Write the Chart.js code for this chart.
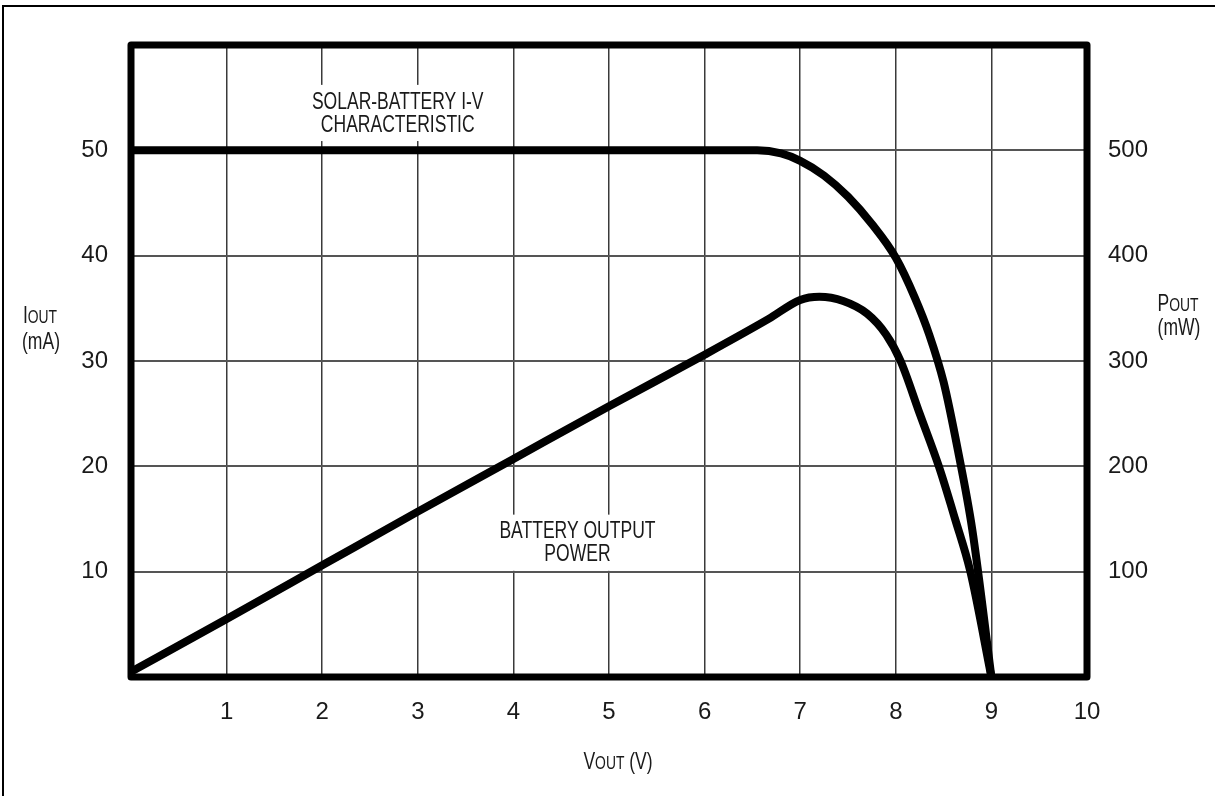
<!DOCTYPE html>
<html lang="en">
<head>
  <meta charset="UTF-8" />
  <title>Solar battery I-V characteristic</title>
  <script src="https://cdn.jsdelivr.net/npm/chart.js"></script>
  <style>
    html, body { margin: 0; padding: 0; background: #fff; }
    #wrap { width: 1215px; height: 796px; }
  </style>
</head>
<body>
  <div id="wrap"><canvas id="ivChart" width="1215" height="796"></canvas></div>

  <script>
    // I-V curve (left axis, mA)
    const ivVolts   = [0, 6.55, 6.8, 7.0, 7.25, 7.5, 7.75, 8.0, 8.2, 8.35, 8.5, 8.65, 8.8, 9.0];
    const ivCurrent = [50, 50, 49.7, 49.0, 47.6, 45.6, 43.0, 39.8, 36.0, 32.5, 28.0, 21.5, 14.0, 0];

    // battery output power (right axis, mW)
    const pwVolts = [0, 1, 2, 3, 4, 5, 6, 6.67, 7.0, 7.2, 7.45, 7.7, 7.9, 8.05, 8.25, 8.45, 8.62, 8.78, 9.0];
    const pwPower = [5, 55, 106, 157, 207, 257, 306, 340, 358, 361, 357, 345, 325, 300, 250, 200, 150, 100, 0];

    const xTicks  = [1, 2, 3, 4, 5, 6, 7, 8, 9, 10];
    const yTicks  = [10, 20, 30, 40, 50];
    const y2Ticks = [100, 200, 300, 400, 500];

    // curve labels, two lines each, sitting on a white patch over the grid
    const notes = [
      { text: "SOLAR-BATTERY I-V", x: 2.79, y: 54.6, group: 0 },
      { text: "CHARACTERISTIC",    x: 2.79, y: 52.4, group: 0 },
      { text: "BATTERY OUTPUT",    x: 4.67, y: 13.8, group: 1 },
      { text: "POWER",             x: 4.67, y: 11.6, group: 1 }
    ];

    const FONT = '"Liberation Sans", Arial, sans-serif';
    const NARROW = 0.73;
    const INK = '#1a1a1a';

    const toXY = (xs, ys) => xs.map((v, i) => ({ x: v, y: ys[i] }));

    // text squeezed horizontally, like the narrow face of the original
    const narrowText = (ctx, text, cx, cy, size) => {
      ctx.save();
      ctx.font = `${size}px ${FONT}`;
      ctx.textAlign = 'center';
      ctx.textBaseline = 'middle';
      ctx.translate(cx, cy);
      ctx.scale(NARROW, 1);
      ctx.fillText(text, 0, 0);
      ctx.restore();
    };

    // "I" + small-caps "OUT" style labels
    const drawSub = (ctx, big, small, rest, cx, cy) => {
      const bigFont = `24px ${FONT}`, smallFont = `19px ${FONT}`;
      ctx.save();
      ctx.font = bigFont;
      const w1 = ctx.measureText(big).width;
      const w3 = rest ? ctx.measureText(rest).width : 0;
      ctx.font = smallFont;
      const w2 = ctx.measureText(small).width;
      ctx.translate(cx, cy + 8);
      ctx.scale(NARROW, 1);
      let x = -(w1 + w2 + w3) / 2;
      ctx.textAlign = 'left';
      ctx.textBaseline = 'alphabetic';
      ctx.font = bigFont; ctx.fillText(big, x, 0); x += w1;
      ctx.font = smallFont; ctx.fillText(small, x, 0); x += w2;
      if (rest) { ctx.font = bigFont; ctx.fillText(rest, x, 0); }
      ctx.restore();
    };

    const framePlugin = {
      id: 'frame',
      beforeDraw(chart) {
        const ctx = chart.ctx;
        ctx.save();
        ctx.fillStyle = '#fff';
        ctx.fillRect(0, 0, chart.width, chart.height);
        ctx.fillStyle = '#000';
        ctx.fillRect(2, 5, chart.width, 2);
        ctx.fillRect(2, 5, 2, chart.height);
        ctx.restore();
      },
      beforeDatasetsDraw(chart) {
        const ctx = chart.ctx;
        const sx = chart.scales.x, sy = chart.scales.y;
        ctx.save();
        ctx.font = `24px ${FONT}`;
        const boxes = {};
        notes.forEach(n => {
          const cx = sx.getPixelForValue(n.x), cy = sy.getPixelForValue(n.y);
          const hw = ctx.measureText(n.text).width * NARROW / 2 + 10;
          const b = boxes[n.group] || { l: Infinity, r: -Infinity, t: Infinity, b: -Infinity };
          b.l = Math.min(b.l, cx - hw); b.r = Math.max(b.r, cx + hw);
          b.t = Math.min(b.t, cy - 17); b.b = Math.max(b.b, cy + 16);
          boxes[n.group] = b;
        });
        ctx.fillStyle = '#fff';
        Object.values(boxes).forEach(b => ctx.fillRect(b.l, b.t, b.r - b.l, b.b - b.t));
        ctx.fillStyle = INK;
        notes.forEach(n => narrowText(ctx, n.text, sx.getPixelForValue(n.x), sy.getPixelForValue(n.y), 24));
        ctx.restore();
      },
      afterDraw(chart) {
        const ctx = chart.ctx;
        const a = chart.chartArea;
        ctx.save();
        ctx.strokeStyle = '#000';
        ctx.lineWidth = 7;
        ctx.lineJoin = 'round';
        ctx.strokeRect(a.left, a.top, a.right - a.left, a.bottom - a.top);

        // axis titles
        ctx.fillStyle = INK;
        drawSub(ctx, 'I', 'OUT', '', 40, 315);
        narrowText(ctx, '(mA)', 41, 342, 24);
        drawSub(ctx, 'P', 'OUT', '', 1178, 303);
        narrowText(ctx, '(mW)', 1179, 328, 24);
        drawSub(ctx, 'V', 'OUT', ' (V)', 618, 761);
        ctx.restore();
      }
    };

    const lineStyle = {
      borderColor: '#000',
      borderWidth: 8,
      pointRadius: 0,
      fill: false,
      cubicInterpolationMode: 'monotone',
      borderCapStyle: 'round',
      borderJoinStyle: 'round'
    };

    const tickFont = { family: FONT, size: 24 };

    new Chart(document.getElementById('ivChart').getContext('2d'), {
      type: 'line',
      data: {
        datasets: [
          Object.assign({ label: 'Solar-battery I-V', data: toXY(ivVolts, ivCurrent), yAxisID: 'y' }, lineStyle),
          Object.assign({ label: 'Battery output power', data: toXY(pwVolts, pwPower), yAxisID: 'y2' }, lineStyle)
        ]
      },
      options: {
        responsive: false,
        animation: false,
        layout: { padding: { top: 45, left: 0, right: 0, bottom: 0 } },
        plugins: { legend: { display: false }, tooltip: { enabled: false } },
        scales: {
          x: {
            type: 'linear', min: 0, max: 10,
            afterFit: s => { s.height = 119; },
            afterBuildTicks: s => { s.ticks = [0].concat(xTicks).map(v => ({ value: v })); },
            ticks: {
              padding: 21, color: INK, font: tickFont,
              callback: v => xTicks.includes(v) ? String(v) : ''
            },
            grid: { color: '#3a3a3a', lineWidth: 1.5, drawTicks: false },
            border: { display: false }
          },
          y: {
            type: 'linear', position: 'left', min: 0, max: 60,
            afterFit: s => { s.width = 131; },
            afterBuildTicks: s => { s.ticks = [0].concat(yTicks, [60]).map(v => ({ value: v })); },
            ticks: {
              padding: 23, color: INK, font: tickFont,
              callback: v => yTicks.includes(v) ? String(v) : ''
            },
            grid: { color: '#555', lineWidth: 2, drawTicks: false },
            border: { display: false }
          },
          y2: {
            type: 'linear', position: 'right', min: 0, max: 600,
            afterFit: s => { s.width = 128; },
            afterBuildTicks: s => { s.ticks = [0].concat(y2Ticks, [600]).map(v => ({ value: v })); },
            ticks: {
              padding: 21, color: INK, font: tickFont,
              callback: v => y2Ticks.includes(v) ? String(v) : ''
            },
            grid: { display: false, drawTicks: false },
            border: { display: false }
          }
        }
      },
      plugins: [framePlugin]
    });
  </script>
</body>
</html>
